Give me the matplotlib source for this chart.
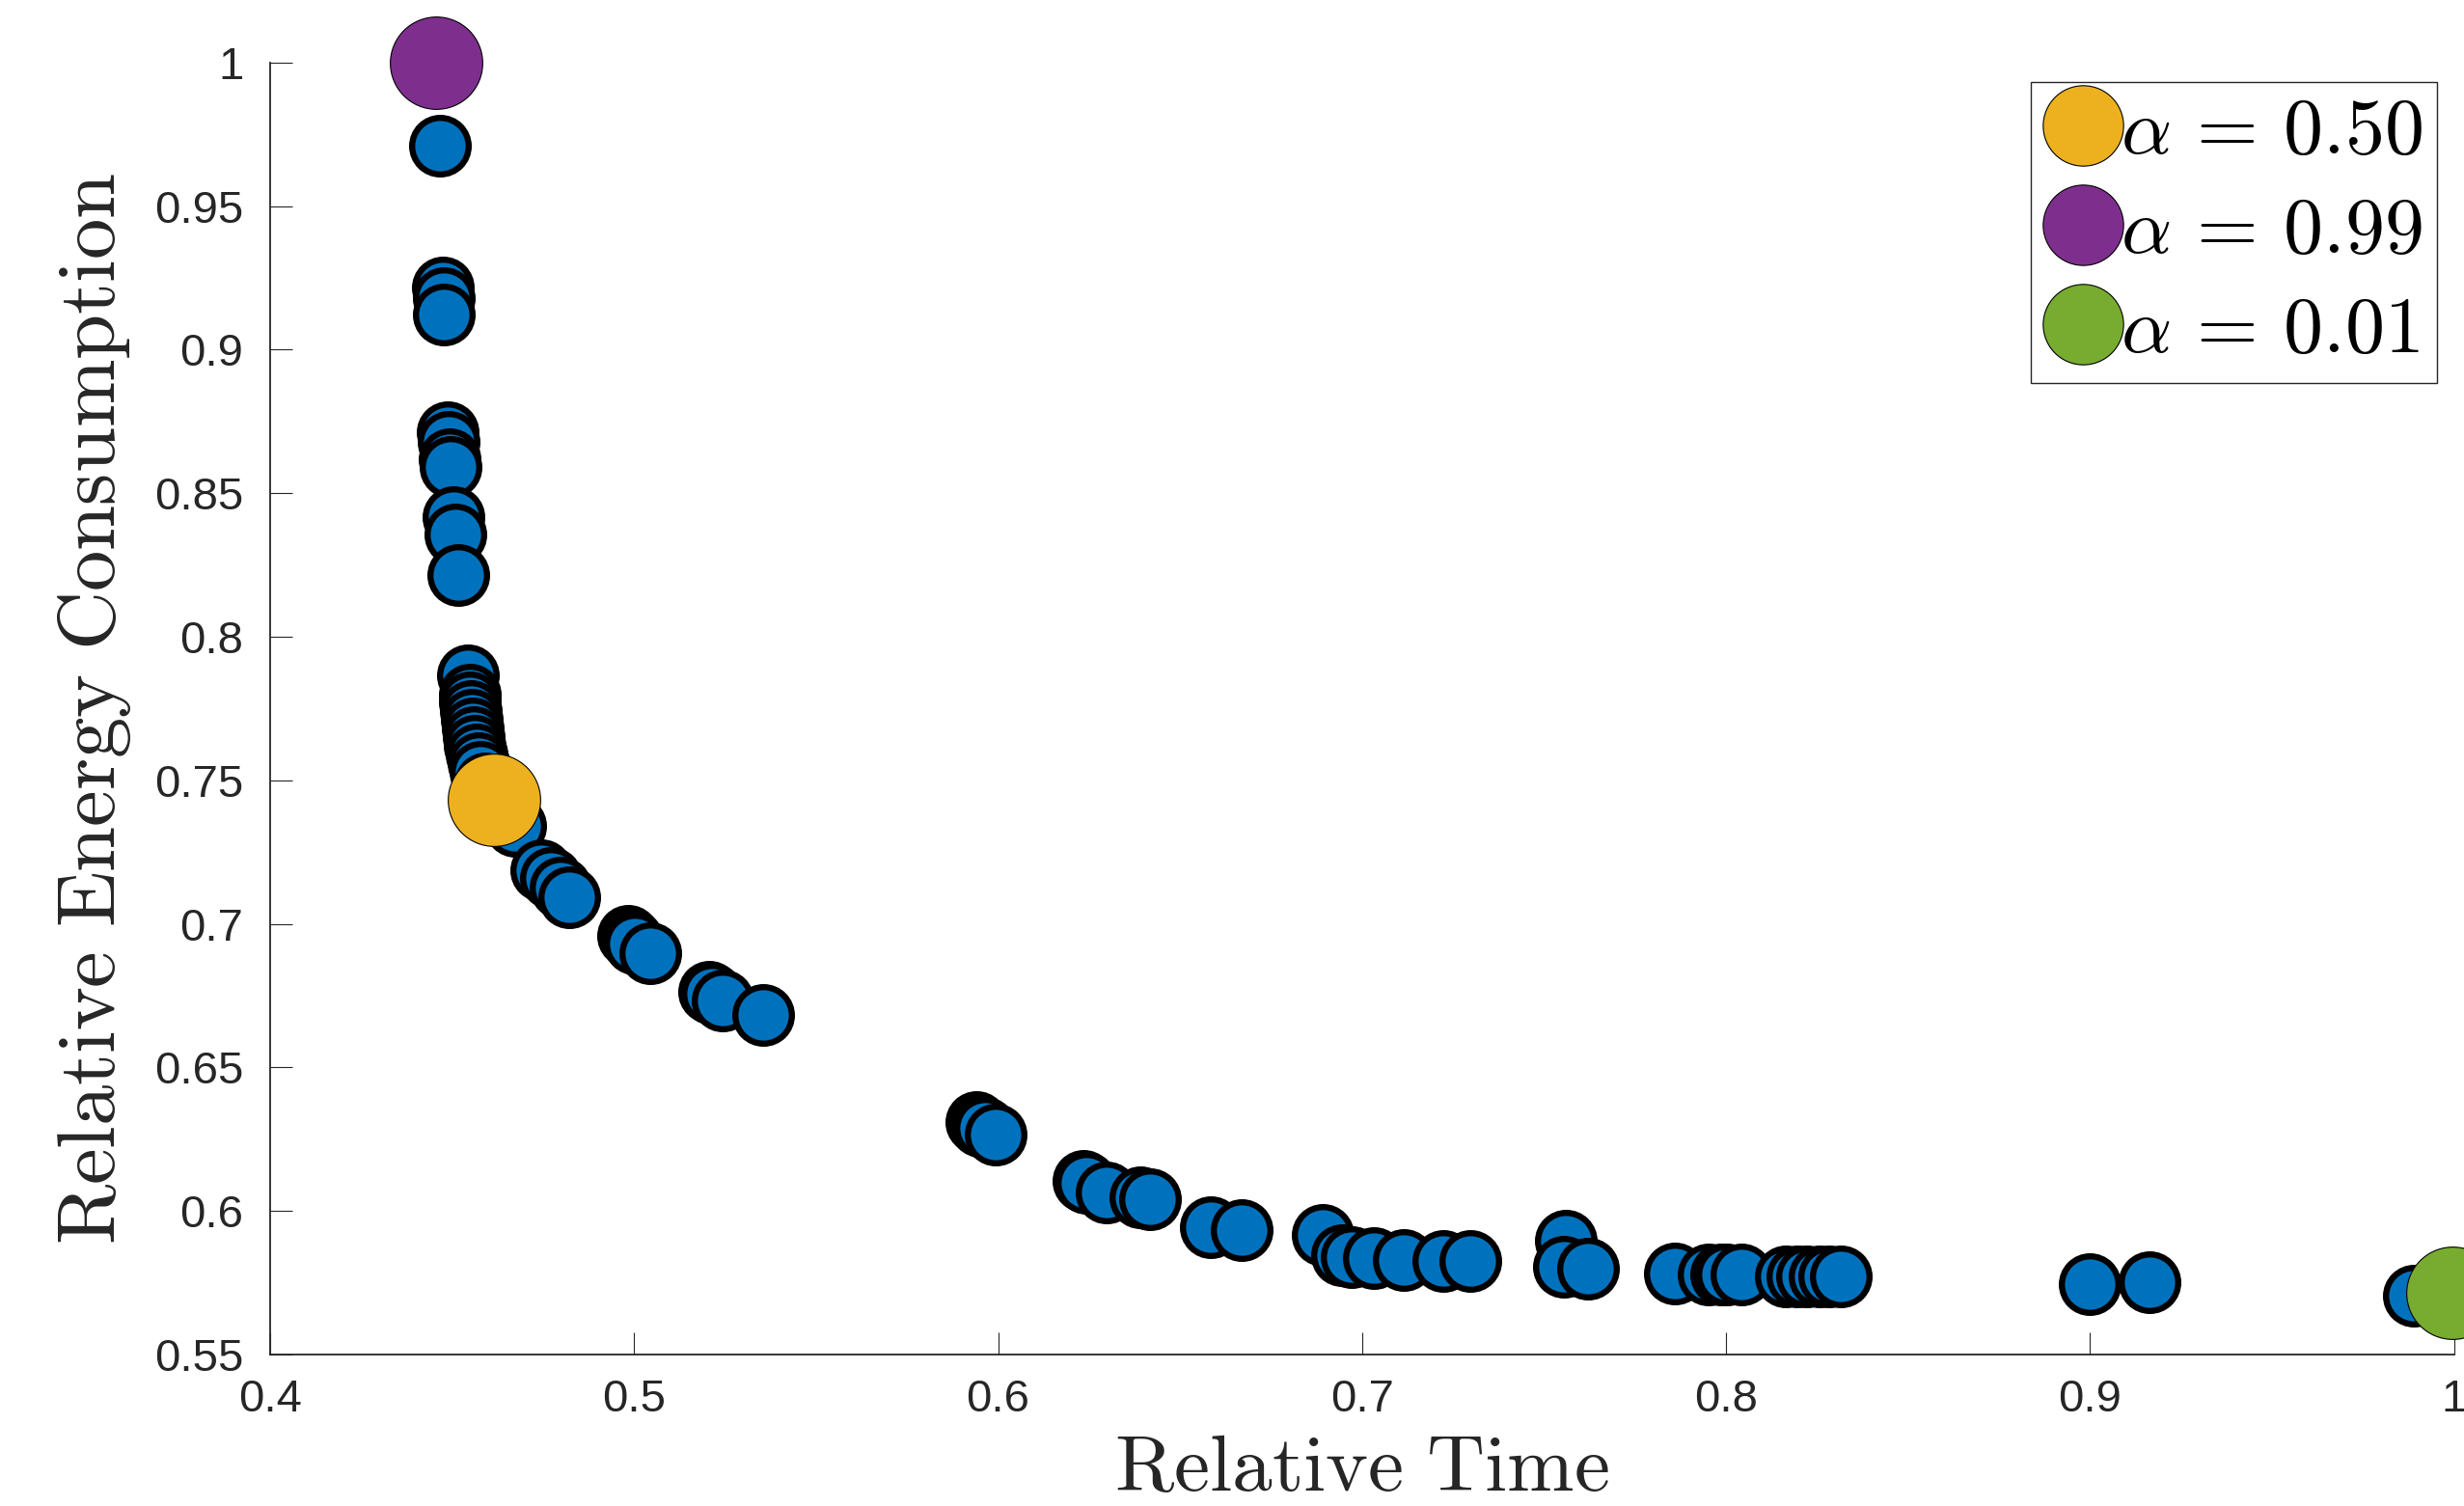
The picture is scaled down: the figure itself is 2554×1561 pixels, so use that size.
import matplotlib
matplotlib.use("Agg")
import matplotlib.pyplot as plt
from matplotlib.lines import Line2D

plt.rcParams['mathtext.fontset'] = 'cm'
plt.rcParams['font.family'] = ['Liberation Sans', 'DejaVu Sans']

# Pareto points (relative time, relative energy)
time_vals = [0.4466, 0.4474, 0.4476, 0.4478,
             0.4488, 0.4490, 0.4494, 0.4497, 0.4505, 0.4508, 0.4517,
             0.4544, 0.4548, 0.4550, 0.4552, 0.4553, 0.4556, 0.4560, 0.4563, 0.4567, 0.4572, 0.4578, 0.4590, 0.4605,
             0.4673,
             0.4745, 0.4772, 0.4798, 0.4822,
             0.4983, 0.4993, 0.5003, 0.5044,
             0.5205, 0.5214, 0.5243, 0.5354,
             0.5940, 0.5952, 0.5965, 0.5992,
             0.6235, 0.6243, 0.6297, 0.6390, 0.6418,
             0.6585, 0.6668,
             0.6891, 0.6945, 0.6972, 0.7032, 0.7114, 0.7222, 0.7296,
             0.7560, 0.7553, 0.7621,
             0.7858, 0.7951, 0.7985, 0.8001, 0.8041,
             0.8163, 0.8197, 0.8223, 0.8256, 0.8282, 0.8316,
             0.8998, 0.9163,
             0.9888]
energy_vals = [0.971, 0.9217, 0.918, 0.9124,
               0.8714, 0.868, 0.862, 0.8593, 0.8418, 0.8358, 0.8215,
               0.7865, 0.7800, 0.777, 0.774, 0.771, 0.768, 0.765, 0.762, 0.759, 0.756, 0.753, 0.749, 0.745,
               0.734,
               0.7188, 0.7161, 0.7127, 0.7093,
               0.6960, 0.6945, 0.6930, 0.6899,
               0.6765, 0.6758, 0.6734, 0.6684,
               0.6310, 0.6298, 0.6290, 0.6267,
               0.6105, 0.6097, 0.6064, 0.6046, 0.6041,
               0.5945, 0.5934,
               0.5917, 0.5846, 0.5840, 0.5835, 0.5829, 0.5825, 0.5825,
               0.5895, 0.5806, 0.5800,
               0.5783, 0.5778, 0.5778, 0.5778, 0.5778,
               0.5772, 0.5772, 0.5772, 0.5772, 0.5772, 0.5772,
               0.5746, 0.5753,
               0.5705]

# Highlighted alpha settings
alpha_labels = [r'$\alpha\,=\,0.50$', r'$\alpha\,=\,0.99$', r'$\alpha\,=\,0.01$']
alpha_time = [0.4616, 0.4457, 0.9996]
alpha_energy = [0.7433, 1.0, 0.5715]
alpha_colors = ['#EDB120', '#7E2F8E', '#77AC30']

xticks = [0.4, 0.5, 0.6, 0.7, 0.8, 0.9, 1.0]
xtick_labels = ['0.4', '0.5', '0.6', '0.7', '0.8', '0.9', '1']
yticks = [0.55, 0.6, 0.65, 0.7, 0.75, 0.8, 0.85, 0.9, 0.95, 1.0]
ytick_labels = ['0.55', '0.6', '0.65', '0.7', '0.75', '0.8', '0.85', '0.9', '0.95', '1']

fig = plt.figure(figsize=(25.54, 15.61), dpi=100)
ax = fig.add_axes([0.1096, 0.1006, 0.8864, 0.8578])

ax.scatter(time_vals, energy_vals, s=1780, c='#0072BD', edgecolors='black',
           linewidths=4.6, clip_on=False, zorder=3)
for t, e, c in zip(alpha_time, alpha_energy, alpha_colors):
    ax.scatter([t], [e], s=4750, c=c, edgecolors='black', linewidths=0.8,
               clip_on=False, zorder=4)

ax.set_xlim(0.4, 1.0)
ax.set_ylim(0.55, 1.0)
ax.set_xticks(xticks)
ax.set_xticklabels(xtick_labels)
ax.set_yticks(yticks)
ax.set_yticklabels(ytick_labels)
ax.tick_params(direction='in', length=16.5, width=0.8, labelsize=34,
               colors='#262626')
ax.tick_params(axis='y', pad=20)
ax.tick_params(axis='x', pad=18)
for side in ['top', 'right']:
    ax.spines[side].set_visible(False)
for side in ['left', 'bottom']:
    ax.spines[side].set_color('#262626')
    ax.spines[side].set_linewidth(1.3)

ax.set_xlabel(r'$\mathrm{Relative\ Time}$', fontsize=60, color='#262626', labelpad=8)
ax.set_ylabel(r'$\mathrm{Relative\ Energy\ Consumption}$', fontsize=61, color='#262626', labelpad=16)

handles = [Line2D([], [], linestyle='none', marker='o', markersize=60,
                  markerfacecolor=c, markeredgecolor='black', markeredgewidth=0.8)
           for c in alpha_colors]
leg = ax.legend(handles, alpha_labels, loc='upper right', bbox_to_anchor=(0.992, 0.985),
                fontsize=59, frameon=True, fancybox=False, framealpha=1,
                edgecolor='#262626', handlelength=0.95, handletextpad=0.0,
                borderpad=0.18, labelspacing=0.33, borderaxespad=0)
leg.get_frame().set_linewidth(1.0)

fig.savefig('out.png', dpi=100)
